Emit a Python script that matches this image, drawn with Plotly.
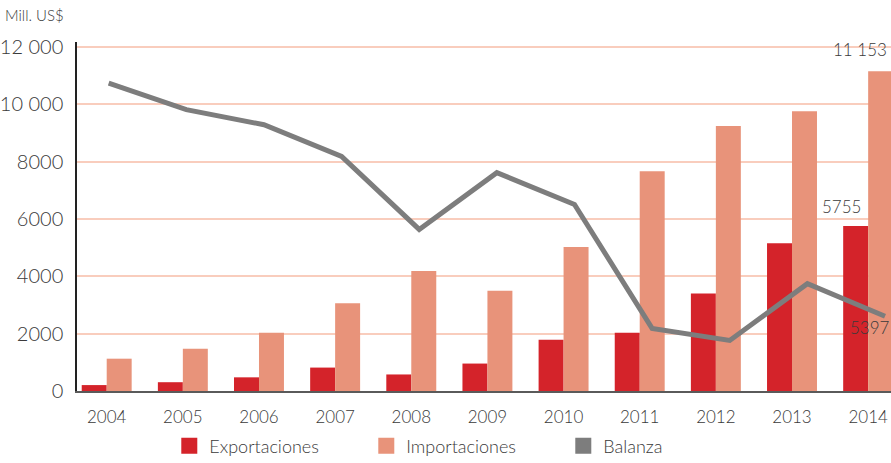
import plotly.graph_objects as go

years = [2004, 2005, 2006, 2007, 2008, 2009, 2010, 2011, 2012, 2013, 2014]
exportaciones = [210, 310, 480, 820, 580, 960, 1790, 2030, 3400, 5150, 5755]
importaciones = [1130, 1480, 2030, 3060, 4190, 3500, 5020, 7660, 9240, 9760, 11153]
balanza = [-920, -1430, -1720, -2330, -3730, -2640, -3250, -5630, -5860, -4770, -5397]

ytick_vals = [0, 2000, 4000, 6000, 8000, 10000, 12000]
ytick_text = ["0", "2000", "4000", "6000", "8000", "10 000", "12 000"]

C_EXP = "#d4232a"
C_IMP = "#e8937a"
C_BAL = "#7d7d7d"
C_GRID = "#f9cdbd"
C_TXT = "#3a3a3a"
FONT = "Lato"
W = 300

fig = go.Figure()

fig.add_trace(go.Bar(x=years, y=exportaciones, name="Exportaciones",
                     marker=dict(color=C_EXP, line=dict(width=0)), showlegend=False))
fig.add_trace(go.Bar(x=years, y=importaciones, name="Importaciones",
                     marker=dict(color=C_IMP, line=dict(width=0)), showlegend=False))
fig.add_trace(go.Scatter(x=years, y=balanza, name="Balanza", mode="lines",
                         line=dict(color=C_BAL, width=5), xaxis="x2", yaxis="y2",
                         showlegend=False))

# legend entries (square glyphs)
for name, col in [("Exportaciones", C_EXP), ("Importaciones", C_IMP), ("Balanza", C_BAL)]:
    fig.add_trace(go.Scatter(x=[None], y=[None], name=name, mode="markers",
                             marker=dict(symbol="square", size=20, color=col)))

fig.update_layout(
    width=891, height=463,
    margin=dict(l=76, r=0, t=42, b=70),
    paper_bgcolor="white", plot_bgcolor="white",
    barmode="group", bargap=0.344, bargroupgap=0,
    font=dict(family=FONT, color=C_TXT, weight=W),
    xaxis=dict(range=[2003.61, 2014.30], tickmode="array", tickvals=years,
               ticktext=[str(y) for y in years], showgrid=False, zeroline=False,
               showline=True, linecolor="#5a5a5a", linewidth=2, ticks="",
               ticklabelstandoff=10, tickfont=dict(size=17, color=C_TXT, family=FONT, weight=W)),
    xaxis2=dict(range=[2003.592, 2014.077], overlaying="x", visible=False),
    yaxis=dict(range=[0, 12170], tickmode="array", tickvals=ytick_vals, ticktext=ytick_text,
               showgrid=True, gridcolor=C_GRID, gridwidth=1.5, zeroline=False,
               showline=True, linecolor="#222222", linewidth=1.5, ticks="",
               ticklabelstandoff=8, tickfont=dict(size=20, color=C_TXT, family=FONT, weight=W)),
    yaxis2=dict(range=[-6833, -132], overlaying="y", visible=False),
    legend=dict(orientation="h", xref="container", yref="container",
                x=0.19, xanchor="left", y=1 - 446 / 463, yanchor="middle",
                entrywidth=152, entrywidthmode="pixels",
                font=dict(size=18, color=C_TXT, family=FONT, weight=W),
                bgcolor="rgba(0,0,0,0)"),
    annotations=[
        dict(text="Mill. US$", xref="paper", yref="paper", x=-74 / 815, y=1 + 27 / 351,
             xanchor="left", yanchor="middle", showarrow=False,
             font=dict(size=15, color=C_TXT, family=FONT, weight=W)),
        dict(text=f"{importaciones[-1] // 1000} {importaciones[-1] % 1000:03d}",
             x=years[-1], y=importaciones[-1], xref="x", yref="y", xshift=-8, yshift=22,
             showarrow=False, font=dict(size=17, color=C_TXT, family=FONT, weight=W)),
        dict(text=f"{exportaciones[-1]}", x=years[-1], y=exportaciones[-1], xref="x", yref="y",
             xshift=-27, yshift=20, showarrow=False,
             font=dict(size=17, color=C_TXT, family=FONT, weight=W)),
        dict(text=f"{abs(balanza[-1])}", x=years[-1], y=balanza[-1], xref="x2", yref="y2",
             xshift=-15, yshift=-11, showarrow=False,
             font=dict(size=17, color=C_TXT, family=FONT, weight=W)),
    ],
)

fig.write_html("out.html", config={"displayModeBar": False},
               post_script="document.body.style.margin='0';")
